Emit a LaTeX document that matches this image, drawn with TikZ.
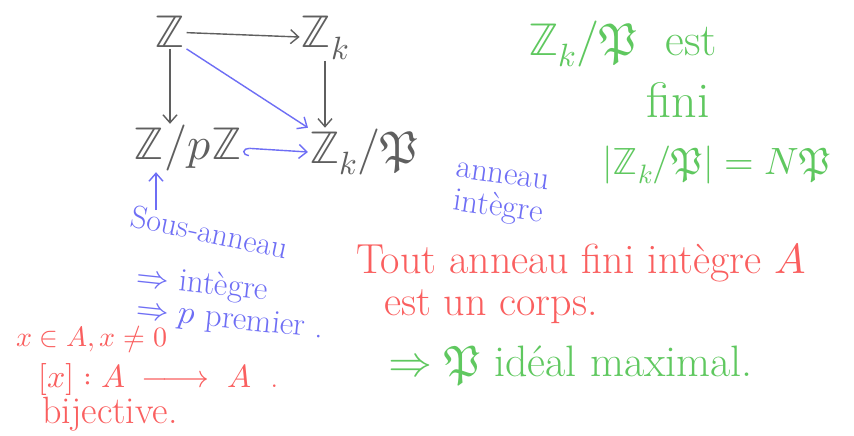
\documentclass[tikz,border=0pt]{standalone}
\usepackage{fontspec}
\usepackage{unicode-math}
\setmathfont{Latin Modern Math}
\usetikzlibrary{arrows.meta,calc}
\definecolor{hgray}{RGB}{95,95,95}
\definecolor{hblue}{RGB}{110,110,245}
\definecolor{hgreen}{RGB}{95,200,95}
\definecolor{hred}{RGB}{250,95,95}
\begin{document}
\begin{tikzpicture}[x=1pt,y=-1pt,
  big/.style={font=\fontsize{46}{50}\selectfont, text=hgray, inner sep=1pt},
  txt/.style={font=\fontsize{#1}{#1}\selectfont, inner sep=0pt},
  tip/.style={-{Straight Barb[length=8pt,width=14pt]}},
  grayarrow/.style={draw=hgray, line width=1.4pt, tip},
  bluearrow/.style={draw=hblue, line width=1.4pt, tip},
]
\useasboundingbox[fill=white] (0,0) rectangle (854,436);
% diagram
\node[big] (Z) at (170,32) {$\mathbb{Z}$};
\node[big] (Zk) at (325,38) {$\mathbb{Z}_k$};
\node[big] (Zp) at (188,148) {$\mathbb{Z}/p\mathbb{Z}$};
\node[big] (Zkp) at (364,152) {$\mathbb{Z}_k/\mathfrak{P}$};
\draw[grayarrow] (Z) -- (Zk);
\draw[grayarrow] (Z) -- (Z|-Zp.north);
\draw[grayarrow] (Zk) -- (Zk|-Zkp.north);
\draw[bluearrow] (Z.south east) -- (Zkp.north west);
\draw[draw=hblue, line width=1.4pt, {Hooks[left,length=6pt,width=16pt]}-{Straight Barb[length=8pt,width=14pt]}] (Zp.east) -- (Zkp.west);
% blue notes
\node[txt=33, text=hblue, rotate=-8, align=center] (ai) at (500,196) {anneau\\intègre};
\node[txt=32, text=hblue, rotate=-12] (sa) at (210,232) {Sous-anneau};
\coordinate (upstart) at (156,210);
\draw[bluearrow] (upstart) -- (Zp.south -| upstart);
\node[txt=33, text=hblue, anchor=west, rotate=-6] (imp1) at (136,278) {$\Rightarrow$ intègre};
\node[txt=33, text=hblue, anchor=west, rotate=-6] (imp2) at (136,311) {$\Rightarrow p$ premier .};
% red notes
\node[txt=28, text=hred, anchor=west] (xa) at (16,339) {$x\in A, x\neq 0$};
\node[txt=32, text=hred, anchor=west] (mx) at (38,379) {$[x]: A \;\relbar\joinrel\longrightarrow\; A$ \ .};
\node[txt=38, text=hred, anchor=west] (bij) at (42,414) {bijective.};
\node[txt=42, text=hred, anchor=west] (tout) at (356,263) {Tout anneau fini intègre $A$};
\node[txt=42, text=hred, anchor=west] (corps) at (384,307) {est un corps.};
% green notes
\node[txt=44, text=hgreen, anchor=west] (ideal) at (388,366) {$\Rightarrow \mathfrak{P}$ idéal maximal.};
\node[txt=46, text=hgreen, anchor=west] (est) at (528,44) {$\mathbb{Z}_k/\mathfrak{P}$\ \ est};
\node[txt=50, text=hgreen] (fini) at (678,100) {fini};
\node[txt=38, text=hgreen, anchor=west] (card) at (602,165) {$|\mathbb{Z}_k/\mathfrak{P}| = N\mathfrak{P}$};
\end{tikzpicture}
\end{document}
